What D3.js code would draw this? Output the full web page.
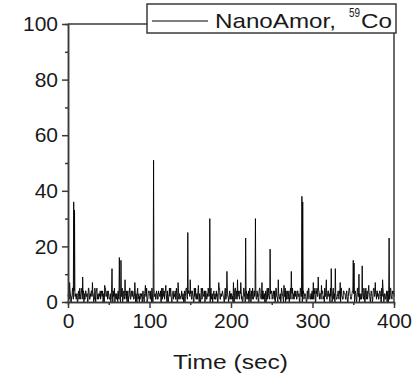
<!DOCTYPE html>
<html>
<head>
<meta charset="utf-8">
<script src="https://cdn.jsdelivr.net/npm/d3@7"></script>
<style>
  body { margin: 0; background: #fff; }
  text { font-family: "Liberation Sans", Arial, sans-serif; fill: #1a1a1a; }
</style>
</head>
<body>
<div id="chart"></div>
<script>
// baseline counts
// one digit per whole second (0..400 s)
const noiseWhole =
  "2413025132" + "1304213524" + "3142053124" + "2315041322" + "1420315243" +
  "2131402513" + "3024152031" + "1243025142" + "3150241323" + "2041352014" +
  "3125042313" + "1432051243" + "2140325134" + "3215041322" + "1304252143" +
  "2413052131" + "3021453204" + "1352041324" + "2143025133" + "3205142031" +
  "1324051423" + "2431025314" + "3105241322" + "2143052134" + "1320415243" +
  "3241052132" + "2053142014" + "1425031342" + "3142052314" + "2310452131" +
  "1245032143" + "3041252314" + "2153041322" + "1324052143" + "3140253124" +
  "2413052031" + "1325041423" + "3042152134" + "2134052313" + "1420315243" + "2";
// one digit per half second (0.5..399.5 s)
const noiseHalf =
  "3140251423" + "2031524130" + "1423051342" + "3012452134" + "2341052314" +
  "1205342031" + "2413025142" + "3104251324" + "1243052013" + "3120425134" +
  "2403152143" + "1324025314" + "3012542031" + "2413052124" + "1230451342" +
  "3142025134" + "2305142413" + "1243052031" + "3120451324" + "2041352143" +
  "3102453124" + "1342052031" + "2413025143" + "3120452314" + "2041532134" +
  "1324052031" + "3142025413" + "2031452134" + "1423052031" + "3204152134" +
  "2130452413" + "1342025134" + "3024152031" + "2413052143" + "1320452134" +
  "3042152013" + "2314052143" + "1230452314" + "3142025031" + "2043152134";

// spikes: [time (s), counts]
const spikeTimes  = [2, 7, 8, 18, 30, 45, 54, 63, 65, 70, 82, 95, 105, 120, 135, 147, 150, 160, 174, 185,
                     195, 203, 208, 212, 218, 230, 238, 248, 258, 265, 274, 287, 288, 301, 307, 311, 317,
                     323, 328, 334, 350, 351, 357, 361, 369, 377, 386, 394];
const spikeValues = [7, 36, 33, 9, 7, 6, 12, 16, 15, 8, 7, 6, 51, 6, 7, 25, 8, 6, 30, 7,
                     11, 7, 8, 7, 23, 30, 7, 19, 8, 6, 11, 38, 36, 7, 9, 6, 8,
                     12, 12, 7, 15, 14, 10, 13, 6, 7, 8, 23];

const xTicks = [0, 100, 200, 300, 400];
const xMinor = [50, 150, 250, 350];
const yTicks = [0, 20, 40, 60, 80, 100];
const yMinor = [10, 30, 50, 70, 90];
const seriesName = "NanoAmor,";
const isotopeMass = "59";
const isotope = "Co";
const xTitle = "Time (sec)";

const data = [];
noiseWhole.split("").forEach((c, i) => {
  data.push({t: i, v: +c});
  if (i < noiseHalf.length) data.push({t: i + 0.5, v: +noiseHalf[i]});
});
spikeTimes.forEach((t, i) => { data[t * 2].v = spikeValues[i]; });

const W = 418, H = 376;
const svg = d3.select("#chart").append("svg").attr("width", W).attr("height", H);

const x = d3.scaleLinear().domain([0, 400]).range([68, 394]);
const y = d3.scaleLinear().domain([0, 100]).range([302, 24]);

// trace
const line = d3.line().x(d => x(d.t)).y(d => y(d.v));
svg.append("path")
  .datum(data)
  .attr("d", line)
  .attr("fill", "none")
  .attr("stroke", "#000")
  .attr("stroke-width", 0.9);

const axisColor = "#3a3a3a";

function styleAxis(g) {
  g.selectAll("path").attr("stroke", axisColor).attr("stroke-width", 1.5);
  g.selectAll("line").attr("stroke", axisColor).attr("stroke-width", 1.5);
  g.selectAll("text").style("font-size", "21px").attr("fill", "#1a1a1a");
}

// minor ticks
svg.append("g")
  .attr("transform", `translate(0,${y(0)})`)
  .call(d3.axisBottom(x).tickValues(xMinor).tickSize(3).tickFormat(""))
  .call(styleAxis);
svg.append("g")
  .attr("transform", `translate(${x(0)},0)`)
  .call(d3.axisLeft(y).tickValues(yMinor).tickSize(3).tickFormat(""))
  .call(styleAxis);

// major axes
svg.append("g")
  .attr("transform", `translate(0,${y(0)})`)
  .call(d3.axisBottom(x).tickValues(xTicks).tickSize(6).tickSizeOuter(0).tickPadding(5))
  .call(styleAxis);
svg.append("g")
  .attr("transform", `translate(${x(0)},0)`)
  .call(d3.axisLeft(y).tickValues(yTicks).tickSize(6).tickSizeOuter(0).tickPadding(4))
  .call(styleAxis);

// top and right frame
svg.append("line")
  .attr("x1", x(0)).attr("x2", x(400)).attr("y1", y(100)).attr("y2", y(100))
  .attr("stroke", axisColor).attr("stroke-width", 1.5);
svg.append("line")
  .attr("x1", x(400)).attr("x2", x(400)).attr("y1", y(100)).attr("y2", y(0))
  .attr("stroke", axisColor).attr("stroke-width", 1.5);

// x title
svg.append("text")
  .attr("x", 173).attr("y", 369)
  .attr("textLength", 115)
  .attr("lengthAdjust", "spacingAndGlyphs")
  .style("font-size", "21px")
  .text(xTitle);

// legend
const lg = svg.append("g");
lg.append("rect")
  .attr("x", 147).attr("y", 4).attr("width", 249).attr("height", 29)
  .attr("fill", "#fff").attr("stroke", axisColor).attr("stroke-width", 1.5);
lg.append("line")
  .attr("x1", 152).attr("x2", 208).attr("y1", 21).attr("y2", 21)
  .attr("stroke", "#000").attr("stroke-width", 1);
lg.append("text")
  .attr("x", 215).attr("y", 28)
  .attr("textLength", 121).attr("lengthAdjust", "spacingAndGlyphs")
  .style("font-size", "21px")
  .text(seriesName);
lg.append("text")
  .attr("x", 349).attr("y", 17)
  .attr("textLength", 11).attr("lengthAdjust", "spacingAndGlyphs")
  .style("font-size", "12px")
  .text(isotopeMass);
lg.append("text")
  .attr("x", 361).attr("y", 28)
  .attr("textLength", 31).attr("lengthAdjust", "spacingAndGlyphs")
  .style("font-size", "21px")
  .text(isotope);
</script>
</body>
</html>
